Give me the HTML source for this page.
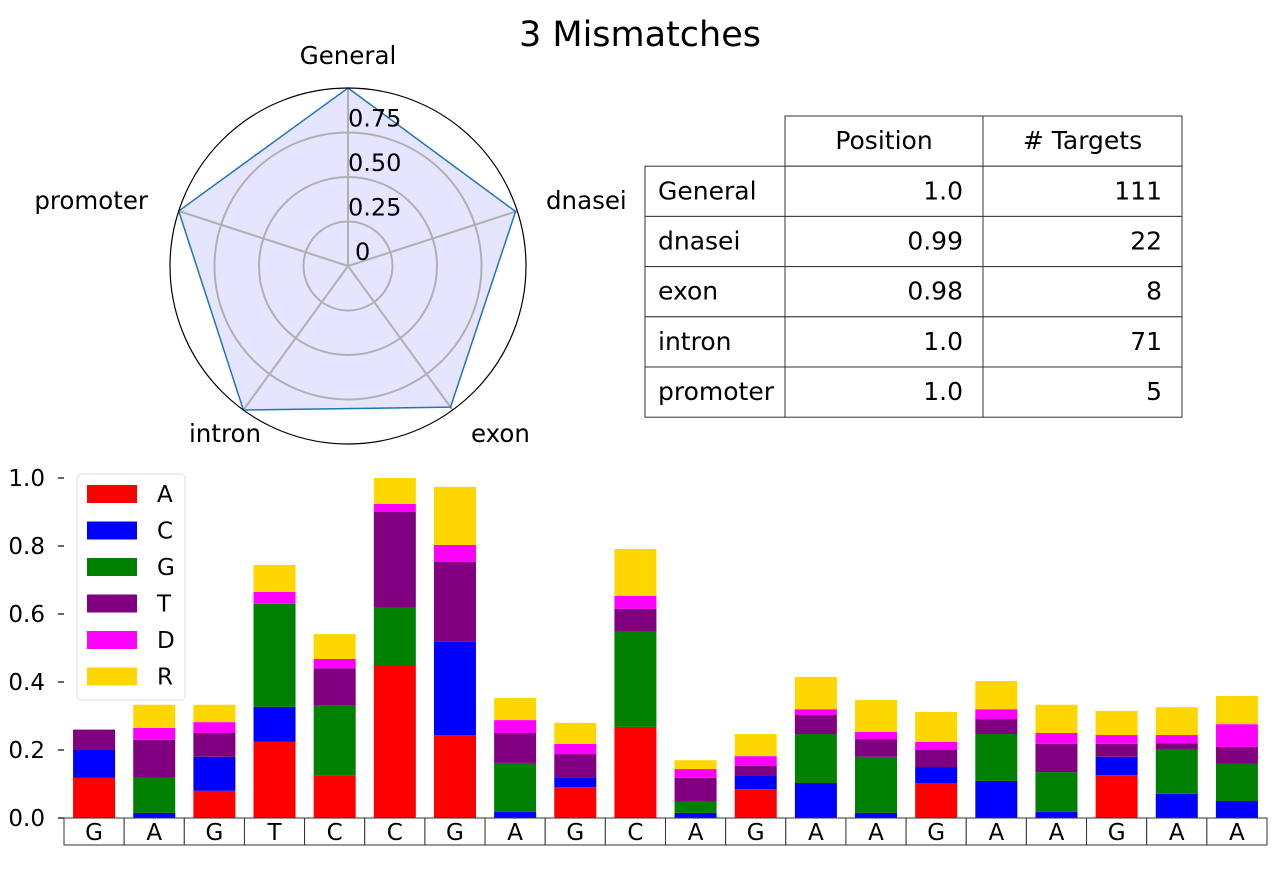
<!DOCTYPE html>
<html><head><meta charset="utf-8"><style>
body{margin:0;background:#fff;}
svg{display:block;font-family:"DejaVu Sans","Liberation Sans",sans-serif;}
</style></head><body>
<svg id="s" width="1280" height="880" xmlns="http://www.w3.org/2000/svg">
<text x="640" y="46" text-anchor="middle" font-size="35">3 Mismatches</text>
<g id="radar"></g>
<g id="table"></g>
<g id="bars"></g>
</svg>
<script>
const NS="http://www.w3.org/2000/svg";
function mk(p,t,a,txt){const e=document.createElementNS(NS,t);for(const k in a)e.setAttribute(k,a[k]);if(txt!==undefined)e.textContent=txt;p.appendChild(e);return e;}

// Radar data
const radarCats=["General","dnasei","exon","intron","promoter"];
const radarVals=[1.0,0.99,0.98,1.0,1.0];
const radarTicks=[0.25,0.5,0.75];
// Table data
const tableHeader=["Position","# Targets"];
const tablePos=["1.0","0.99","0.98","1.0","1.0"];
const tableTargets=["111","22","8","71","5"];
// Bar data
const seqLetters=["G","A","G","T","C","C","G","A","G","C","A","G","A","A","G","A","A","G","A","A"];
const seriesNames=["A","C","G","T","D","R"];
const seriesColors=["#ff0000","#0000ff","#008000","#800080","#ff00ff","#ffd700"];
const valA=[0.118,0,0.08,0.224,0.126,0.45,0.244,0,0.091,0.268,0,0.085,0,0,0.103,0,0,0.126,0,0];
const valC=[0.082,0.015,0.1,0.103,0,0,0.274,0.018,0.029,0,0.015,0.041,0.103,0.015,0.047,0.109,0.018,0.054,0.071,0.05];
const valG=[0,0.103,0,0.303,0.204,0.168,0,0.144,0,0.282,0.035,0,0.144,0.165,0,0.138,0.117,0,0.132,0.109];
const valT=[0.06,0.112,0.07,0,0.11,0.282,0.235,0.088,0.068,0.065,0.068,0.027,0.056,0.052,0.05,0.044,0.083,0.038,0.017,0.05];
const valD=[0,0.035,0.032,0.035,0.028,0.024,0.05,0.038,0.03,0.038,0.026,0.029,0.017,0.021,0.024,0.029,0.032,0.026,0.024,0.067];
const valR=[0,0.068,0.051,0.079,0.073,0.076,0.171,0.065,0.062,0.138,0.026,0.065,0.095,0.094,0.088,0.083,0.083,0.071,0.082,0.083];
const yTicks=[0,0.2,0.4,0.6,0.8,1.0];

// ---- Radar
const R=document.getElementById('radar');
const cx=348,cy=266,rMax=178;
const ang=i=>(90-72*i)*Math.PI/180;
const pt=(i,v)=>[cx+Math.cos(ang(i))*v*rMax, cy-Math.sin(ang(i))*v*rMax];
let poly=radarVals.map((v,i)=>pt(i,v).join(',')).join(' ');
let e=mk(R,'polygon',{points:poly,fill:'#e5e5ff',stroke:'none'});

radarTicks.forEach(t=>{const c=mk(R,'circle',{cx,cy,r:t*rMax,fill:'none',stroke:'#b0b0b0','stroke-width':2});
});
radarCats.forEach((c,i)=>{const p=pt(i,1);const l=mk(R,'line',{x1:cx,y1:cy,x2:p[0],y2:p[1],stroke:'#b0b0b0','stroke-width':2});
});
e=mk(R,'polygon',{points:poly,fill:'none',stroke:'#1f77b4','stroke-width':1.5});

e=mk(R,'circle',{cx,cy,r:rMax,fill:'none',stroke:'#000','stroke-width':1.2});

[0].concat(radarTicks).forEach(t=>{const tx=mk(R,'text',{x:cx+(t?0:7),y:cy-t*rMax-6,'font-size':24},t===0?'0':t.toFixed(2));
});
const lblPos=[[348,64,'middle'],[546,209,'start'],[471,442,'start'],[261,442,'end'],[148,209,'end']];
radarCats.forEach((c,i)=>{const tx=mk(R,'text',{x:lblPos[i][0],y:lblPos[i][1],'text-anchor':lblPos[i][2],'font-size':24.5},c);
});

// ---- Table
const T=document.getElementById('table');
const xs=[645,785,983,1182],y0=116,rh=50.2;
tableHeader.forEach((h,j)=>{const r=mk(T,'rect',{x:xs[j+1],y:y0,width:xs[j+2]-xs[j+1],height:rh,fill:'#fff',stroke:'#333','stroke-width':1});

const t=mk(T,'text',{x:(xs[j+1]+xs[j+2])/2,y:y0+rh/2+8,'text-anchor':'middle','font-size':25},h);
});
radarCats.forEach((c,i)=>{const y=y0+rh*(i+1);
[c,tablePos[i],tableTargets[i]].forEach((v,j)=>{const r=mk(T,'rect',{x:xs[j],y,width:xs[j+1]-xs[j],height:rh,fill:'#fff',stroke:'#333','stroke-width':1});

const t=mk(T,'text',{x:j===0?xs[j]+13:xs[j+1]-20,y:y+rh/2+8,'text-anchor':j===0?'start':'end','font-size':25},v);
});});

// ---- Bars
const B=document.getElementById('bars');
const x0=64,x1=1267,yb=818,yt=478;
const n=seqLetters.length,cw=(x1-x0)/n,bw=42;
const Y=v=>yb-(v)*(yb-yt);
const X=i=>x0+cw*(i+0.5);
yTicks.forEach(t=>{const l=mk(B,'line',{x1:58,x2:64,y1:Y(t),y2:Y(t),stroke:'#000','stroke-width':1.2});

const tx=mk(B,'text',{x:45,y:Y(t)+8,'text-anchor':'end','font-size':23},t.toFixed(1));
});
const series=[valA,valC,valG,valT,valD,valR];
for(let i=0;i<n;i++){let acc=0;
series.forEach((s,k)=>{const v=s[i];if(v>0){const r=mk(B,'rect',{x:X(i)-bw/2,y:Y(acc+v),width:bw,height:Y(acc)-Y(acc+v),fill:seriesColors[k]});
}acc+=v;});
const c=mk(B,'rect',{x:x0+cw*i,y:818,width:cw,height:27,fill:'#fff',stroke:'#333','stroke-width':1});

const t=mk(B,'text',{x:X(i),y:840,'text-anchor':'middle','font-size':23},seqLetters[i]);
}
const lg=mk(B,'rect',{x:77,y:474,width:108,height:226,rx:4,fill:'#fff',stroke:'#ddd','stroke-width':1});

seriesNames.forEach((s,k)=>{const y=494+36.5*k;
const p=mk(B,'rect',{x:87,y:y-9,width:50,height:18,fill:seriesColors[k]});

const t=mk(B,'text',{x:157,y:y+8,'font-size':23},s);
});
</script>
</body></html>
